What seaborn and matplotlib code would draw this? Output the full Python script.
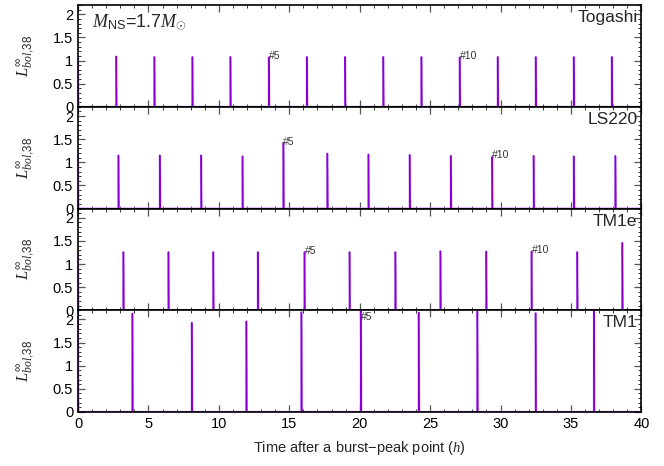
import numpy as np
import pandas as pd
import matplotlib
matplotlib.use("Agg")
import matplotlib.pyplot as plt
import seaborn as sns
from matplotlib.ticker import MultipleLocator

# ---- data ----
models = ["Togashi", "LS220", "TM1e", "TM1"]

togashi_t = [2.71, 5.42, 8.12, 10.82, 13.55, 16.25, 18.96, 21.67, 24.38, 27.10, 29.80, 32.50, 35.20, 37.90]
togashi_L = [1.09, 1.08, 1.08, 1.08, 1.07, 1.08, 1.08, 1.08, 1.08, 1.07, 1.08, 1.08, 1.08, 1.08]

ls220_t = [2.87, 5.81, 8.74, 11.68, 14.58, 17.70, 20.62, 23.55, 26.47, 29.40, 32.35, 35.20, 38.15]
ls220_L = [1.15, 1.15, 1.15, 1.13, 1.42, 1.19, 1.17, 1.16, 1.14, 1.12, 1.14, 1.13, 1.14]

tm1e_t = [3.22, 6.42, 9.60, 12.77, 16.08, 19.28, 22.53, 25.73, 28.98, 32.20, 35.44, 38.64]
tm1e_L = [1.26, 1.26, 1.26, 1.26, 1.26, 1.26, 1.26, 1.28, 1.27, 1.27, 1.26, 1.46]

tm1_t = [3.86, 8.08, 11.95, 15.86, 20.08, 24.19, 28.35, 32.49, 36.63]
tm1_L = [2.13, 1.93, 1.96, 2.16, 2.25, 2.15, 2.18, 2.14, 2.25]

initial_peak = [1.08, 1.15, 1.26, 2.13]   # burst-peak point at t = 0
labelled_bursts = {0: [5, 10], 1: [5, 10], 2: [5, 10], 3: [5]}

series_t = [togashi_t, ls220_t, tm1e_t, tm1_t]
series_L = [togashi_L, ls220_L, tm1e_L, tm1_L]

yticks = [0, 0.5, 1, 1.5, 2]
ytick_labels = ["0", "0.5", "1", "1.5", "2"]
xticks = [0, 5, 10, 15, 20, 25, 30, 35, 40]


def light_curve(times, peaks, p0):
    t = [0.0, 0.03]
    L = [p0, 0.0]
    for ti, pi in zip(times, peaks):
        t += [ti - 0.006, ti, ti + 0.035]
        L += [0.0, pi, 0.0]
    t.append(40.0)
    L.append(0.0)
    return pd.DataFrame({"t": t, "L": L})


sns.set_theme(style="ticks")
plt.rcParams["font.family"] = ["Liberation Sans", "DejaVu Sans"]
plt.rcParams["mathtext.fontset"] = "custom"
plt.rcParams["mathtext.it"] = "Liberation Serif:italic"
plt.rcParams["mathtext.rm"] = "Liberation Sans"
plt.rcParams["mathtext.bf"] = "Liberation Serif:bold"

fig, axes = plt.subplots(4, 1, figsize=(6.64, 4.66), dpi=100, sharex=True)
fig.subplots_adjust(left=0.1175, right=0.966, top=0.989, bottom=0.116, hspace=0)

for i, ax in enumerate(axes):
    df = light_curve(series_t[i], series_L[i], initial_peak[i])
    sns.lineplot(data=df, x="t", y="L", ax=ax, color="#c58af0", lw=1.5,
                 estimator=None, sort=False)
    sns.lineplot(data=df, x="t", y="L", ax=ax, color="#8a00d4", lw=0.8,
                 estimator=None, sort=False)
    ax.set_xlim(0, 40)
    ax.set_ylim(0, 2.2)
    ax.set_yticks(yticks)
    ax.set_yticklabels(ytick_labels)
    ax.set_xticks(xticks)
    ax.xaxis.set_minor_locator(MultipleLocator(1))
    ax.yaxis.set_minor_locator(MultipleLocator(0.1))
    ax.tick_params(which="both", direction="in", top=True, right=True,
                   labelsize=10.5, colors="black")
    ax.tick_params(which="major", length=5, width=0.9, color="#555555")
    ax.tick_params(which="minor", length=2.5, width=0.7, color="#333333")
    for sp in ax.spines.values():
        sp.set_linewidth(1.2)
        sp.set_color("black")
        sp.set_zorder(5)
    ax.set_xlabel("")
    ax.set_ylabel(r"$L^{\infty}_{bol{,}38}$", fontsize=12)
    ax.yaxis.set_label_coords(-0.072, 0.5)
    ax.text(0.993, 0.95, models[i], transform=ax.transAxes, ha="right",
            va="top", fontsize=12.5)
    for n in labelled_bursts[i]:
        tx = series_t[i][n - 1]
        ty = min(series_L[i][n - 1], 2.02)
        ax.annotate(f"#{n}", xy=(tx, ty), xytext=(0, 1), textcoords="offset points",
                    ha="left", va="center", fontsize=7.5, color="#333333")

axes[0].text(0.025, 0.83, r"$M_{\rm NS}$=1.7$M_{\odot}$", transform=axes[0].transAxes,
             ha="left", va="center", fontsize=13)

axes[-1].set_xlabel(r"Time after a burst$-$peak point ($h$)", fontsize=10.5, labelpad=6)

fig.savefig("out.png", dpi=100)
